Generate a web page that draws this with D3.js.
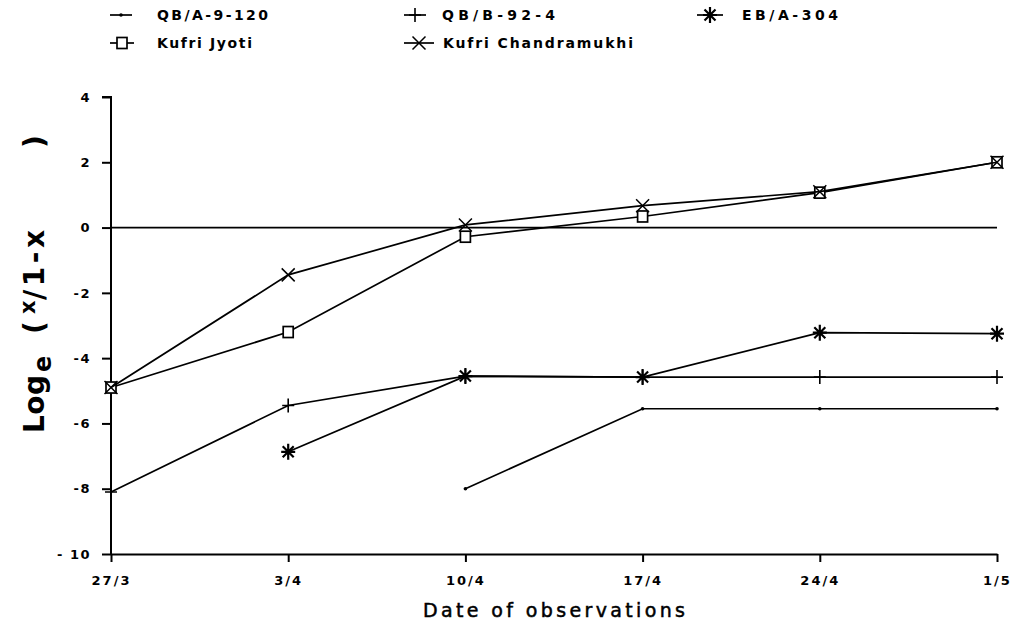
<!DOCTYPE html>
<html><head><meta charset="utf-8">
<script src="https://cdn.jsdelivr.net/npm/d3@7"></script>
<style>
html,body{margin:0;padding:0;background:#fff;}
svg{display:block;}
text{font-family:"DejaVu Sans","Liberation Sans",Arial,sans-serif;fill:#000;}
</style></head>
<body>
<svg id="chart" width="1014" height="626"></svg>
<script>
const dates = ["27/3","3/4","10/4","17/4","24/4","1/5"];
const qbA9120 = [null, null, -8.0, -5.55, -5.55, -5.55];
const qbB924 = [-8.1, -5.45, -4.55, -4.58, -4.58, -4.58];
const ebA304 = [null, -6.87, -4.55, -4.58, -3.22, -3.25];
const kufriJyoti = [-4.9, -3.2, -0.28, 0.34, 1.07, 2.0];
const kufriChandramukhi = [-4.9, -1.45, 0.08, 0.67, 1.1, 2.0];
const yTicks = [-10, -8, -6, -4, -2, 0, 2, 4];
const seriesNames = ["QB/A-9-120","QB/B-92-4","EB/A-304","Kufri Jyoti","Kufri Chandramukhi"];

const FONT = "'DejaVu Sans','Liberation Sans',Arial,sans-serif";
const svg = d3.select("#chart");
const x = d3.scalePoint().domain(dates).range([111, 997]);
const y = d3.scaleLinear().domain([-10, 4]).range([554, 97]);

// marker painters
function mDot(g){ g.append("circle").attr("r",1.8).attr("fill","#000"); }
function mPlus(g){ g.append("path").attr("d","M0,-7V7M-6,0H6").attr("stroke","#000").attr("stroke-width",1.6).attr("fill","none"); }
function mStar(g){ g.append("path").attr("d","M0,-8V8M-7,0H7M-5.5,-5.5L5.5,5.5M-5.5,5.5L5.5,-5.5").attr("stroke","#000").attr("stroke-width",2.2).attr("fill","none"); }
function mSquare(g){ g.append("rect").attr("x",-5).attr("y",-5.5).attr("width",10).attr("height",11).attr("fill","#fff").attr("stroke","#000").attr("stroke-width",1.7); }
function mCross(g){ g.append("path").attr("d","M-6.5,-6.5L6.5,6.5M-6.5,6.5L6.5,-6.5").attr("stroke","#000").attr("stroke-width",1.5).attr("fill","none"); }

const series = [
  {name: seriesNames[0], values: qbA9120, marker: mDot},
  {name: seriesNames[1], values: qbB924, marker: mPlus},
  {name: seriesNames[2], values: ebA304, marker: mStar},
  {name: seriesNames[3], values: kufriJyoti, marker: mSquare},
  {name: seriesNames[4], values: kufriChandramukhi, marker: mCross}
];

// zero reference line
svg.append("line").attr("x1", x(dates[0])).attr("x2", x(dates[dates.length-1]))
  .attr("y1", y(0)).attr("y2", y(0)).attr("stroke","#000").attr("stroke-width",1.7);

// axes
const yAxis = d3.axisLeft(y).tickValues(yTicks).tickSize(9).tickPadding(11)
  .tickFormat(d => d === -10 ? "- 10" : d3.format("d")(d).replace("−","-"));
const gy = svg.append("g").attr("transform", `translate(${x(dates[0])},0)`).call(yAxis);
gy.select(".domain").attr("stroke","#000").attr("stroke-width",2).attr("d", `M-9,${y(4)}H0V${y(-10)}`);
gy.selectAll(".tick line").attr("stroke","#000").attr("stroke-width",2);
gy.selectAll(".tick text").attr("font-size",13).attr("font-weight","bold").attr("letter-spacing","1.5px")
  .attr("font-family",FONT);

const xAxis = d3.axisBottom(x).tickSize(8).tickPadding(14).tickSizeOuter(0);
const gx = svg.append("g").attr("transform", `translate(0,${y(-10)})`).call(xAxis);
gx.select(".domain").attr("stroke","#000").attr("stroke-width",2);
gx.selectAll(".tick line").attr("stroke","#000").attr("stroke-width",2);
gx.selectAll(".tick text").attr("font-size",13).attr("font-weight","bold").attr("letter-spacing","2px")
  .attr("font-family",FONT);

// lines and markers
const line = d3.line().defined(d => d.v !== null).x(d => x(d.date)).y(d => y(d.v));
series.forEach(s => {
  const pts = dates.map((dt,i) => ({date: dt, v: s.values[i]}));
  svg.append("path").datum(pts).attr("d", line).attr("fill","none").attr("stroke","#000").attr("stroke-width",1.7);
  pts.filter(p => p.v !== null).forEach(p => {
    const g = svg.append("g").attr("transform", `translate(${x(p.date)},${y(p.v)})`);
    s.marker(g);
  });
});

// legend
const legendPos = [
  {lx: 110, ly: 15, w: 22, tx: 157, tl: 111},
  {lx: 404, ly: 15, w: 22, tx: 442, tl: 113},
  {lx: 697, ly: 15, w: 26, tx: 742, tl: 96},
  {lx: 110, ly: 43, w: 24, tx: 157, tl: 95},
  {lx: 404, ly: 43, w: 30, tx: 443, tl: 190}
];
series.forEach((s,i) => {
  const p = legendPos[i];
  svg.append("line").attr("x1",p.lx).attr("x2",p.lx+p.w).attr("y1",p.ly).attr("y2",p.ly)
    .attr("stroke","#000").attr("stroke-width",1.7);
  const g = svg.append("g").attr("transform", `translate(${p.lx+p.w/2},${p.ly})`);
  s.marker(g);
  svg.append("text").attr("x",p.tx).attr("y",p.ly+5).attr("font-size",14).attr("font-weight","bold")
    .attr("textLength",p.tl).attr("lengthAdjust","spacing").text(s.name);
});

// x title
svg.append("text").attr("x",423).attr("y",617).attr("font-size",19)
  .attr("stroke","#000").attr("stroke-width",0.5)
  .attr("textLength",262).attr("lengthAdjust","spacing").text("Date of observations");

// y title (rotated; x coordinate in rotated frame = -screenY)
const yt = svg.append("text").attr("transform","translate(44,0) rotate(-90)")
  .attr("font-weight","bold").attr("font-size",28).attr("font-family",FONT);
yt.append("tspan").attr("x",-433).attr("textLength",58).attr("lengthAdjust","spacing").text("Log");
yt.append("tspan").attr("x",-372).attr("dy",7).attr("font-size",24).text("e");
yt.append("tspan").attr("x",-334).attr("dy",-7).text("(");
yt.append("tspan").attr("x",-314).attr("dy",-9).attr("font-size",21).text("x");
yt.append("tspan").attr("x",-300).attr("dy",9).attr("textLength",70).attr("lengthAdjust","spacing").text("/1-x");
yt.append("tspan").attr("x",-148).text(")");
</script>
</body></html>
